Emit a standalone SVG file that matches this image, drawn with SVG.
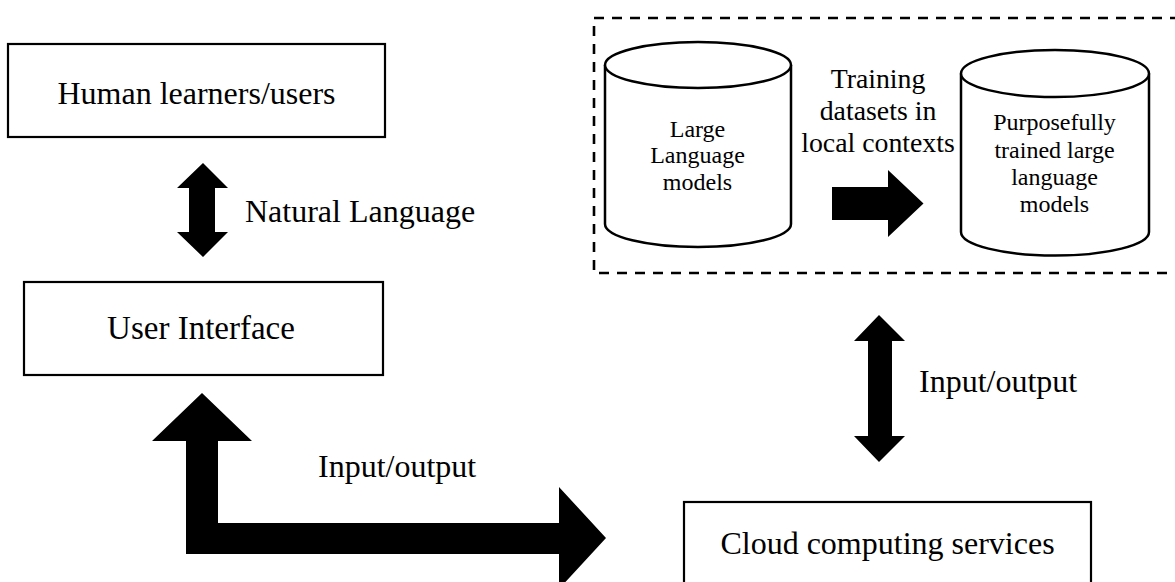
<svg xmlns="http://www.w3.org/2000/svg" width="1175" height="582" viewBox="0 0 1175 582">
<style>
.box{fill:#fff;stroke:#000;stroke-width:2.2}
.cyl{fill:#fff;stroke:#000;stroke-width:2.5}
.t{font-family:"Liberation Serif","Times New Roman",serif;fill:#000}
.big{font-size:32px}
.mid{font-size:27.8px}
.sm{font-size:24px}
.arrow{fill:#000;stroke:none}
</style>
<rect width="1175" height="582" fill="#fff"/>
<g id="dashed-group">
<rect x="594" y="18" width="600" height="255" fill="none" stroke="#000" stroke-width="2.6" stroke-dasharray="10 8"/>
</g>
<g id="human">
<rect class="box" x="8" y="44" width="377" height="93"/>
<text class="t big" x="196.5" y="104" text-anchor="middle">Human learners/users</text>
</g>
<g id="ui">
<rect class="box" x="24" y="282" width="359" height="93"/>
<text class="t big" x="201" y="339" text-anchor="middle" style="font-size:33px">User Interface</text>
</g>
<g id="cloud">
<rect class="box" x="684" y="502" width="407" height="100"/>
<text class="t big" x="887.5" y="554" text-anchor="middle">Cloud computing services</text>
</g>
<g id="llm">
<path class="cyl" d="M605,65 L605,224 A93,23 0 0 0 791,224 L791,65"/>
<ellipse class="cyl" cx="698" cy="65" rx="93" ry="23"/>
<text class="t sm" text-anchor="middle"><tspan x="697.5" y="137">Large</tspan><tspan x="697.5" y="163">Language</tspan><tspan x="697.5" y="190">models</tspan></text>
</g>
<g id="trained-llm">
<path class="cyl" d="M961,73.5 L961,232 A94,23.5 0 0 0 1149,232 L1149,73.5"/>
<ellipse class="cyl" cx="1055" cy="73.5" rx="94" ry="23.5"/>
<text class="t sm" text-anchor="middle"><tspan x="1054.5" y="130">Purposefully</tspan><tspan x="1054.5" y="158">trained large</tspan><tspan x="1054.5" y="185">language</tspan><tspan x="1054.5" y="212">models</tspan></text>
</g>
<g id="connectors">
<polygon class="arrow" points="203,163 228,188 215,188 215,232 228,232 203,257 177,232 189,232 189,188 177,188"/>
<text class="t big" x="245" y="222">Natural Language</text>
<polygon class="arrow" points="202,393 252,441 218,441 218,523 559,523 559,487 606,538 559,589 559,554 186,554 186,441 152,441"/>
<text class="t big" x="318" y="477">Input/output</text>
<polygon class="arrow" points="879,315 905,341 892,341 892,436 905,436 879,462 854,436 868,436 868,341 854,341"/>
<text class="t big" x="919" y="392">Input/output</text>
<polygon class="arrow" points="832,187 888,187 888,170 923.5,203.5 888,237 888,220 832,220"/>
<text class="t mid" text-anchor="middle"><tspan x="878" y="88">Training</tspan><tspan x="878" y="120">datasets in</tspan><tspan x="878" y="152">local contexts</tspan></text>
</g>
</svg>
